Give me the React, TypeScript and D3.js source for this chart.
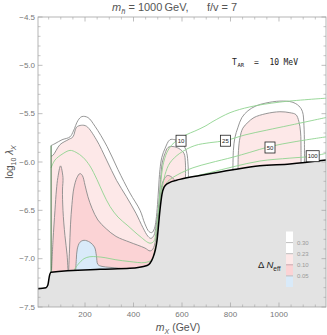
import * as d3 from "d3";

type Pt = [number, number];

// excluded-region edge (black line), mX in GeV vs log10 lambda
const boundary: Pt[] = [
  [6, -7.31], [39, -7.3], [47, -7.27], [53, -7.18], [60, -7.14], [262, -7.11],
  [385, -7.1], [456, -7.07], [480, -6.99], [497, -6.81], [509, -6.5], [517, -6.34],
  [526, -6.26], [542, -6.22], [591, -6.18], [674, -6.14], [810, -6.08], [921, -6.04],
  [1045, -6.02], [1194, -5.98],
];

// Delta N_eff = 0.30 contour
const c30Left: Pt[] = [
  [60, -5.83], [76, -5.81], [105, -5.77], [138, -5.74], [152, -5.68], [171, -5.57],
  [187, -5.53], [212, -5.54], [241, -5.63], [291, -5.84], [336, -6.08], [385, -6.32],
  [427, -6.5], [447, -6.64], [464, -6.72], [476, -6.73], [486, -6.69], [493, -6.6],
  [499, -6.44], [503, -6.29], [509, -6.08], [517, -5.95], [530, -5.86], [550, -5.77],
  [571, -5.77], [591, -5.79], [610, -5.84], [620, -5.91], [625, -6.03], [627, -6.19],
];
const c30Right: Pt[] = [
  [810, -6.08], [812, -5.88], [818, -5.75], [831, -5.64], [847, -5.54], [872, -5.47],
  [905, -5.42], [946, -5.39], [1004, -5.37], [1054, -5.38], [1082, -5.42], [1097, -5.48],
  [1103, -5.62], [1105, -5.82], [1105, -6.01],
];

// Delta N_eff = 0.23 contour
const c23Left: Pt[] = [
  [60, -5.94], [68, -5.93], [97, -5.82], [130, -5.77], [150, -5.74], [165, -5.64],
  [185, -5.62], [206, -5.63], [247, -5.77], [289, -5.98], [330, -6.19], [371, -6.36],
  [410, -6.53], [439, -6.68], [460, -6.77], [472, -6.79], [484, -6.76], [493, -6.66],
  [501, -6.52], [507, -6.34], [513, -6.13], [519, -6.0], [530, -5.91], [542, -5.85],
  [563, -5.84], [587, -5.86], [608, -5.91], [614, -6.01], [614, -6.19],
];
const c23Right: Pt[] = [
  [831, -6.09], [833, -5.88], [839, -5.75], [851, -5.65], [872, -5.59], [897, -5.54],
  [946, -5.5], [1004, -5.48], [1045, -5.49], [1070, -5.51], [1082, -5.58], [1089, -5.69],
  [1091, -5.88], [1091, -6.02],
];

// Delta N_eff = 0.10 contour
const c10Main: Pt[] = [
  [132, -7.15], [136, -6.91], [140, -6.65], [146, -6.44], [154, -6.27], [167, -6.16],
  [179, -6.12], [189, -6.14], [200, -6.24], [212, -6.36], [229, -6.48], [253, -6.6],
  [287, -6.69], [328, -6.77], [385, -6.83], [447, -6.89], [468, -6.92], [480, -6.9],
  [491, -6.81], [499, -6.65], [507, -6.44], [513, -6.31], [519, -6.22], [528, -6.17],
  [540, -6.14], [554, -6.15], [567, -6.18], [577, -6.22],
];
const c10Finger: Pt[] = [
  [62, -7.12], [68, -6.81], [76, -6.5], [82, -6.29], [88, -6.16], [99, -6.04],
  [109, -6.16], [107, -6.29], [109, -6.5], [117, -6.76], [126, -6.96], [130, -7.14],
];

// Delta N_eff = 0.05 contour
const c05: Pt[] = [
  [161, -7.14], [164, -7.01], [168, -6.9], [179, -6.83], [196, -6.81], [220, -6.83],
  [239, -6.88], [247, -6.97], [253, -7.06], [270, -7.08], [303, -7.09], [344, -7.1],
  [385, -7.12],
];

// green guide lines with their labels
const g10: Pt[] = [
  [60, -6.06], [76, -5.98], [105, -5.92], [138, -5.88], [163, -5.9], [191, -5.95],
  [220, -6.04], [249, -6.18], [274, -6.32], [303, -6.46], [336, -6.57], [377, -6.66],
  [427, -6.77], [468, -6.84], [484, -6.82], [493, -6.72], [501, -6.55], [507, -6.37],
  [513, -6.21], [521, -6.04], [538, -5.9], [559, -5.82], [579, -5.78], [616, -5.72],
  [653, -5.68], [695, -5.63], [728, -5.58], [798, -5.49], [880, -5.43], [1004, -5.38],
  [1194, -5.34],
];
const g25: Pt[] = [
  [150, -7.14], [171, -7.06], [196, -7.0], [220, -6.98], [249, -6.98], [283, -6.99],
  [324, -7.01], [385, -7.03], [447, -7.04], [476, -7.01], [488, -6.91], [497, -6.78],
  [505, -6.6], [511, -6.42], [517, -6.29], [530, -6.13], [550, -6.01], [591, -5.91],
  [653, -5.83], [715, -5.8], [777, -5.78], [860, -5.72], [950, -5.67], [1045, -5.62],
  [1194, -5.54],
];
const g50: Pt[] = [
  [513, -6.39], [526, -6.27], [542, -6.2], [583, -6.13], [645, -6.06], [715, -6.01],
  [810, -5.95], [880, -5.9], [963, -5.84], [1066, -5.79], [1194, -5.74],
];
const g100: Pt[] = [
  [530, -6.25], [571, -6.2], [633, -6.16], [715, -6.11], [810, -6.05], [921, -5.99],
  [1045, -5.96], [1140, -5.94], [1194, -5.91],
];
const greenLabels = ["10", "25", "50", "100"];
const greenLabelPos: Pt[] = [[596, -5.78], [779, -5.78], [963, -5.85], [1139, -5.94]];

const legendLevels = ["0.30", "0.23", "0.10", "0.05"];
const legendColors = ["#ffffff", "#ffffff", "#fde8e8", "#fbd3d5", "#d9eaf9"];

const xMajor = [200, 400, 600, 800, 1000];
const xMinor = d3.range(50, 1190, 50).filter((v) => v % 200 !== 0);
const yMajor = [-7.5, -7.0, -6.5, -6.0, -5.5, -5.0, -4.5];
const yMinor = d3.range(-7.4, -4.5, 0.1).filter((v) => Math.abs(v * 2 - Math.round(v * 2)) > 0.01);

export default function App() {
  const x = d3.scaleLinear().domain([6, 1194]).range([38, 326]);
  const y = d3.scaleLinear().domain([-7.5, -4.5]).range([307, 17]);
  const smooth = d3.line<Pt>().x((d) => x(d[0])).y((d) => y(d[1])).curve(d3.curveCatmullRom.alpha(0.5));
  const edge = d3.line<Pt>().x((d) => x(d[0])).y((d) => y(d[1])).curve(d3.curveMonotoneX);

  const filled = (pts: Pt[]) => {
    const a = pts[0], b = pts[pts.length - 1];
    return `${smooth(pts)}L${x(b[0])},${y(-7.45)}L${x(a[0])},${y(-7.45)}Z`;
  };
  const grayPath = `${edge(boundary)}L${x(1194)},${y(-7.5)}L${x(6)},${y(-7.5)}Z`;

  const [x0, x1] = x.range();
  const [y0, y1] = y.range();
  const frame = "#a3a3a3";
  const contour = "#8a8a8a";
  const green = "#90d490";
  const font = "'Liberation Sans', Arial, sans-serif";

  const legTop = 231.5;
  const legStep = 11.1;

  return (
    <svg width={327} height={335} style={{ position: "absolute", left: 0, top: 0 }} fontFamily={font}>
      <rect width={327} height={335} fill="#fff" />
      {/* filled bands */}
      <path d={filled(c23Left)} fill="#fde8e8" />
      <path d={filled(c23Right)} fill="#fde8e8" />
      <path d={filled(c10Main)} fill="#fbd3d5" />
      <path d={filled(c10Finger)} fill="#fbd3d5" />
      <path d={filled(c05)} fill="#d9eaf9" />

      {/* contour lines */}
      {[c30Left, c30Right, c23Left, c23Right, c10Main, c10Finger, c05].map((c, i) => (
        <path key={i} d={smooth(c) ?? ""} fill="none" stroke={contour} strokeWidth={0.9} />
      ))}
      {[g10, g25, g50, g100].map((g, i) => (
        <path key={i} d={smooth(g) ?? ""} fill="none" stroke={green} strokeWidth={0.9} />
      ))}
      <line x1={x(60)} x2={x(60)} y1={y(-7.14)} y2={y(-5.83)} stroke="#3d6e3d" strokeWidth={1} />

      {/* excluded region */}
      <path d={grayPath} fill="#e3e3e3" />
      <path d={edge(boundary) ?? ""} fill="none" stroke="#000" strokeWidth={1.5} />

      {/* green line labels */}
      {greenLabels.map((t, i) => {
        const w = t.length > 2 ? 13 : 10;
        const cx = x(greenLabelPos[i][0]);
        const cy = y(greenLabelPos[i][1]);
        return (
          <g key={t}>
            <rect x={cx - w / 2} y={cy - 5.5} width={w} height={11} fill="#fff" stroke="#222" strokeWidth={0.8} />
            <text x={cx} y={cy + 2.2} fontSize={6} textAnchor="middle" fill="#222">{t}</text>
          </g>
        );
      })}

      {/* frame and ticks */}
      <rect x={x0} y={y1} width={x1 - x0} height={y0 - y1} fill="none" stroke={frame} strokeWidth={0.8} />
      {xMajor.map((v) => (
        <g key={v}>
          <line x1={x(v)} x2={x(v)} y1={y0} y2={y0 - 4.5} stroke={frame} strokeWidth={0.7} />
          <line x1={x(v)} x2={x(v)} y1={y1} y2={y1 + 4.5} stroke={frame} strokeWidth={0.7} />
          <text x={x(v)} y={y0 + 9.5} fontSize={8} textAnchor="middle" fill="#777">{v}</text>
        </g>
      ))}
      {xMinor.map((v) => (
        <g key={v}>
          <line x1={x(v)} x2={x(v)} y1={y0} y2={y0 - 2.5} stroke={frame} strokeWidth={0.6} />
          <line x1={x(v)} x2={x(v)} y1={y1} y2={y1 + 2.5} stroke={frame} strokeWidth={0.6} />
        </g>
      ))}
      {yMajor.map((v) => (
        <g key={v}>
          <line x1={x0} x2={x0 + 4.5} y1={y(v)} y2={y(v)} stroke={frame} strokeWidth={0.7} />
          <line x1={x1} x2={x1 - 4.5} y1={y(v)} y2={y(v)} stroke={frame} strokeWidth={0.7} />
          <text x={x0 - 3} y={y(v) + 2.8} fontSize={8} textAnchor="end" fill="#777">
            {"\u2212" + Math.abs(v).toFixed(1)}
          </text>
        </g>
      ))}
      {yMinor.map((v, i) => (
        <g key={i}>
          <line x1={x0} x2={x0 + 2.5} y1={y(v)} y2={y(v)} stroke={frame} strokeWidth={0.6} />
          <line x1={x1} x2={x1 - 2.5} y1={y(v)} y2={y(v)} stroke={frame} strokeWidth={0.6} />
        </g>
      ))}

      {/* legend */}
      {legendColors.map((c, i) => (
        <rect key={i} x={286} y={legTop + i * legStep} width={7} height={legStep} fill={c} />
      ))}
      {legendLevels.map((t, i) => {
        const yy = legTop + (i + 1) * legStep;
        return (
          <g key={t}>
            <line x1={286} x2={293} y1={yy} y2={yy} stroke={i === 2 ? "#c9a9ad" : "#bdbdbd"} strokeWidth={1} />
            <text x={297} y={yy + 2} fontSize={6} fill="#9a9a9a">{t}</text>
          </g>
        );
      })}
      <text x={258} y={268} fontSize={9.5} fill="#222">
        {"\u0394 "}
        <tspan fontStyle="italic">N</tspan>
        <tspan dy={2.5} fontSize={6.5}>eff</tspan>
      </text>

      {/* annotations */}
      <text y={65} fontSize={8} fill="#222" fontFamily="'DejaVu Sans Mono', monospace">
        <tspan x={232}>T</tspan>
        <tspan x={237.5} dy={1.8} fontSize={5.5}>AR</tspan>
        <tspan x={254} dy={-1.8}>=</tspan>
        <tspan x={269.5}>10</tspan>
        <tspan x={283.5}>MeV</tspan>
      </text>
      <text x={112} y={11} fontSize={11} fill="#555" style={{ whiteSpace: "pre" }}>
        <tspan fontStyle="italic">m</tspan>
        <tspan dy={2.5} fontSize={7.5} fontStyle="italic">{"h\u0303"}</tspan>
        <tspan dy={-2.5}>{" = 1000\u2009GeV,      f/v = 7"}</tspan>
      </text>
      <text transform="translate(13,162) rotate(-90)" fontSize={10} fill="#555" textAnchor="middle">
        log<tspan dy={2.5} fontSize={7}>10</tspan>
        <tspan dy={-2.5}>{" "}</tspan>
        <tspan fontStyle="italic">λ</tspan>
        <tspan dy={2.5} fontSize={7} fontStyle="italic">X</tspan>
      </text>
      <text x={178} y={331} fontSize={10.5} fill="#555" textAnchor="middle">
        <tspan fontStyle="italic">m</tspan>
        <tspan dy={2.5} fontSize={7} fontStyle="italic">X</tspan>
        <tspan dy={-2.5}>{" (GeV)"}</tspan>
      </text>
    </svg>
  );
}
